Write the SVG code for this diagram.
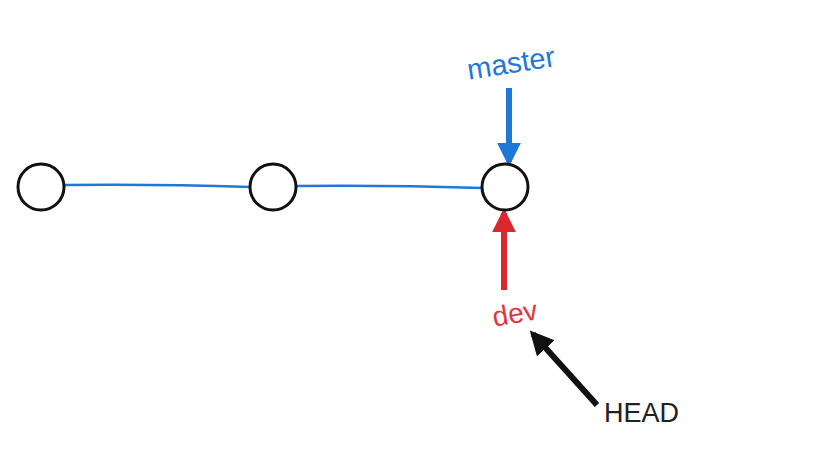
<svg xmlns="http://www.w3.org/2000/svg" width="828" height="449" viewBox="0 0 828 449">
<style>
.commit{fill:#fff;stroke:#111;stroke-width:3}
.edge{fill:none;stroke:#1f78d8;stroke-width:2.5}
.lbl{font-family:"Liberation Sans",Arial,sans-serif}
</style>
<defs>
<marker id="ab" viewBox="0 0 10 10" refX="8" refY="5" markerWidth="4" markerHeight="4" orient="auto" markerUnits="strokeWidth"><path d="M0,0 L10,5 L0,10 z" fill="#1f78d8"/></marker>
<marker id="ar" viewBox="0 0 10 10" refX="8" refY="5" markerWidth="4" markerHeight="4" orient="auto" markerUnits="strokeWidth"><path d="M0,0 L10,5 L0,10 z" fill="#d9282e"/></marker>
<marker id="ak" viewBox="0 0 10 10" refX="8" refY="5" markerWidth="4" markerHeight="4" orient="auto" markerUnits="strokeWidth"><path d="M0,0 L10,5 L0,10 z" fill="#111"/></marker>
</defs>
<rect width="828" height="449" fill="#fff"/>
<g id="connectors">
<path class="edge" d="M64,185 Q160,184 250,187"/>
<path class="edge" d="M296,186 Q390,185 482,188"/>
<line x1="509" y1="88" x2="509" y2="162" stroke="#1f78d8" stroke-width="6" marker-end="url(#ab)"/>
<line x1="504" y1="290" x2="504" y2="213" stroke="#d9282e" stroke-width="6" marker-end="url(#ar)"/>
<line x1="597" y1="405" x2="533" y2="334" stroke="#111" stroke-width="6" marker-end="url(#ak)"/>
</g>
<g id="c1"><circle class="commit" cx="41" cy="187" r="23"/></g>
<g id="c2"><circle class="commit" cx="273" cy="187" r="23"/></g>
<g id="c3"><circle class="commit" cx="505" cy="187" r="23"/></g>
<g id="master"><text class="lbl" x="511" y="73" font-size="29" fill="#1f78d8" text-anchor="middle" transform="rotate(-9 511 63)">master</text></g>
<g id="dev"><text class="lbl" x="515" y="323" font-size="28" fill="#e0363c" text-anchor="middle" transform="rotate(-10 515 314)">dev</text></g>
<g id="head"><text class="lbl" x="604" y="422" font-size="27" fill="#222">HEAD</text></g>
</svg>
